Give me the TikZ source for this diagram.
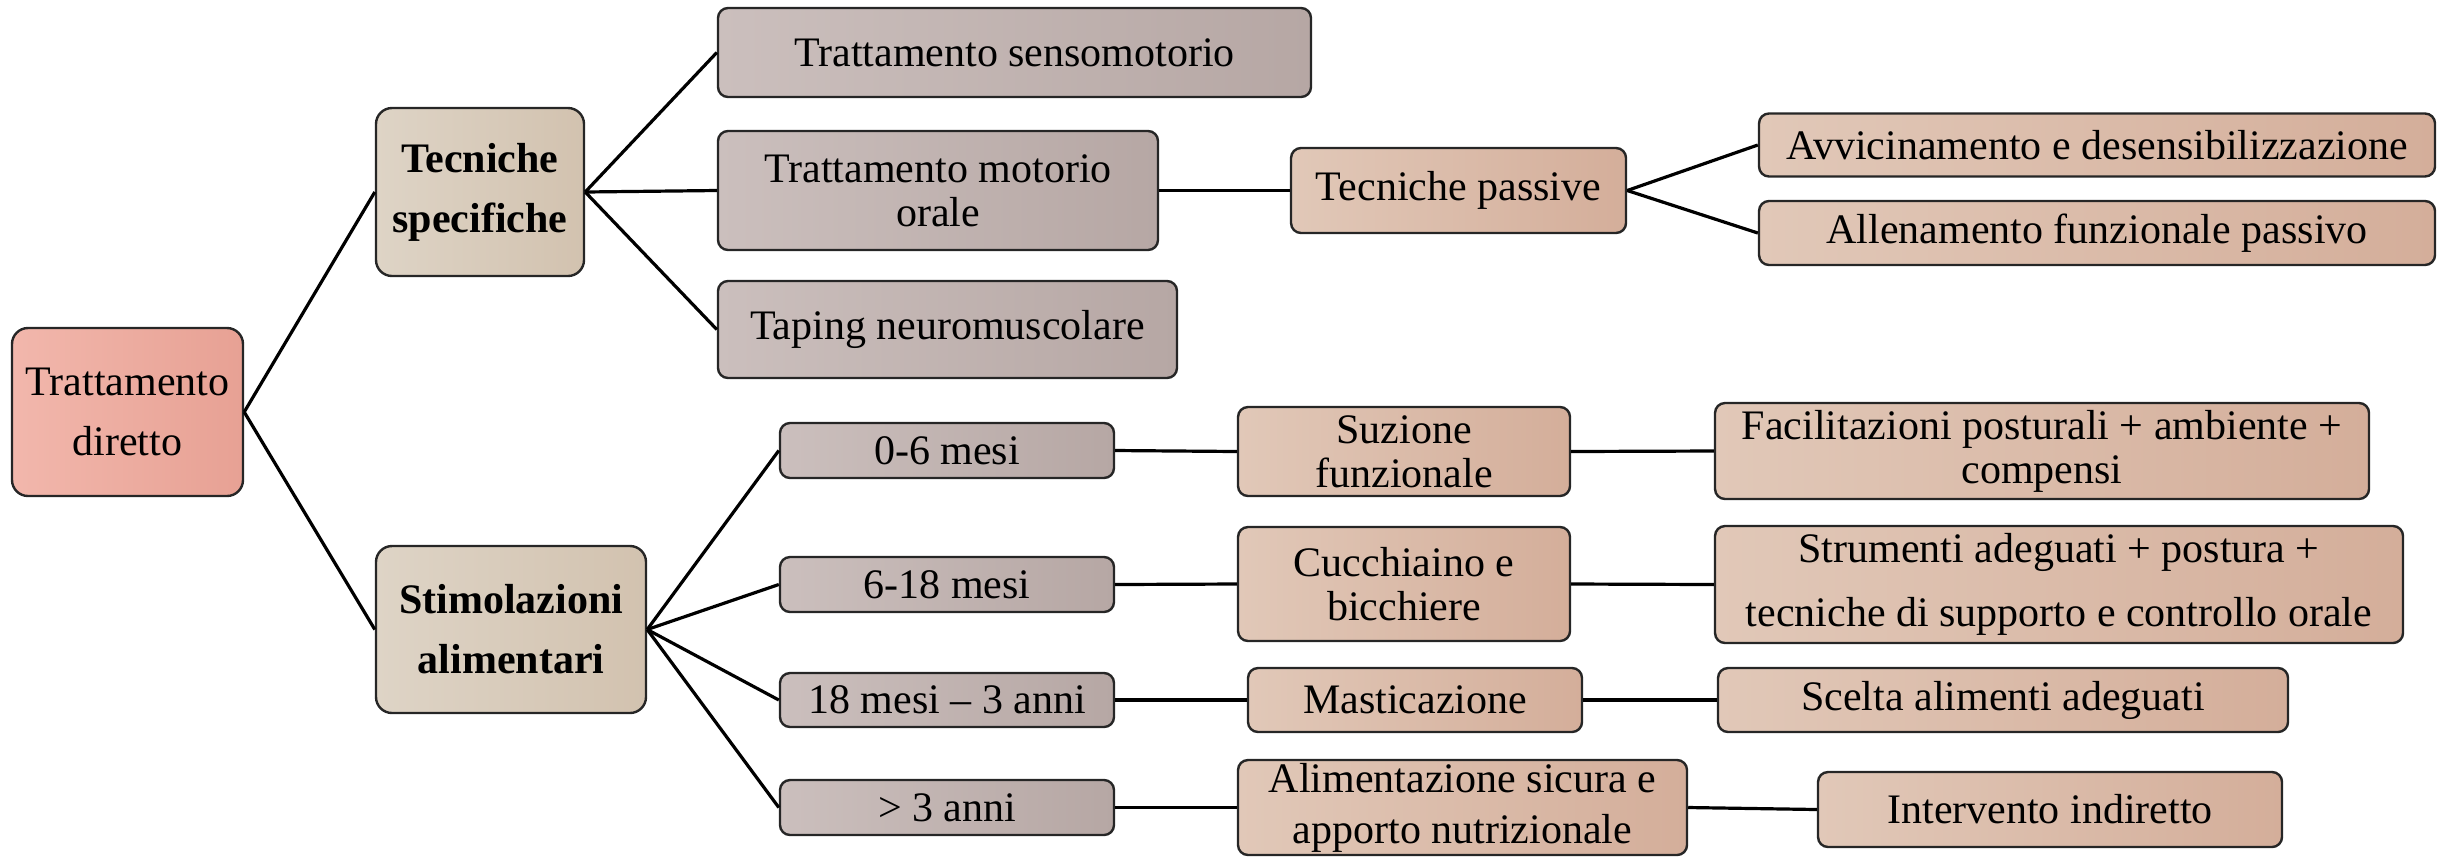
\documentclass[tikz,border=0pt]{standalone}
\usepackage{fontspec}
\setmainfont{Liberation Serif}
\begin{document}
\begin{tikzpicture}[x=0.25pt,y=-0.25pt]
\tikzset{
  basebox/.style={draw=black!85, line width=0.6pt, rounded corners=2.5pt, align=center, inner sep=0pt,
    font=\fontsize{10.5pt}{11pt}\selectfont},
  pinkbox/.style={basebox, rounded corners=4pt, left color=pinkA, right color=pinkB, font=\fontsize{10.5pt}{15pt}\selectfont},
  beigebox/.style={basebox, rounded corners=4pt, left color=beigeA, right color=beigeB, font=\bfseries\fontsize{10.5pt}{15pt}\selectfont},
  graybox/.style={basebox, left color=grayA, right color=grayB},
  tanbox/.style={basebox, left color=tanA, right color=tanB},
  conn/.style={draw=black, line width=0.8pt}
}
\definecolor{pinkA}{HTML}{F2B7AC}
\definecolor{pinkB}{HTML}{E7A194}
\definecolor{beigeA}{HTML}{DED4C6}
\definecolor{beigeB}{HTML}{D2C2AF}
\definecolor{grayA}{HTML}{CBBFBD}
\definecolor{grayB}{HTML}{B6A7A4}
\definecolor{tanA}{HTML}{E1C8B8}
\definecolor{tanB}{HTML}{D4AE9A}
\useasboundingbox (0,0) rectangle (2447,859);

\node[pinkbox, minimum width=57.75pt, minimum height=42pt] (td) at (127.5,412) {Trattamento\\diretto};
\node[beigebox, minimum width=52pt, minimum height=42pt] (ts) at (480,192) {Tecniche\\specifiche};
\node[beigebox, minimum width=67.5pt, minimum height=41.75pt] (sa) at (511,629.5) {Stimolazioni\\alimentari};

\node[graybox, minimum width=148.25pt, minimum height=22.25pt] (sm) at (1014.5,52.5) {Trattamento sensomotorio};
\node[graybox, minimum width=110pt, minimum height=29.75pt] (mo) at (938,190.5) {Trattamento motorio\\orale};
\node[graybox, minimum width=114.75pt, minimum height=24.25pt] (tn) at (947.5,329.5) {Taping neuromuscolare};

\node[tanbox, minimum width=83.75pt, minimum height=21.25pt] (tp) at (1458.5,190.5) {Tecniche passive};
\node[tanbox, minimum width=169pt, minimum height=15.75pt] (av) at (2097,145) {Avvicinamento e desensibilizzazione};
\node[tanbox, minimum width=169pt, minimum height=16pt] (al) at (2097,233) {Allenamento funzionale passivo};

\node[graybox, minimum width=83.5pt, minimum height=13.75pt] (a1) at (947,450.5) {0-6 mesi};
\node[graybox, minimum width=83.5pt, minimum height=13.75pt] (a2) at (947,584.5) {6-18 mesi};
\node[graybox, minimum width=83.5pt, minimum height=13.5pt] (a3) at (947,700) {18 mesi -- 3 anni};
\node[graybox, minimum width=83.5pt, minimum height=13.75pt] (a4) at (947,807.5) {> 3 anni};

\node[tanbox, minimum width=83pt, minimum height=22.25pt] (b1) at (1404,451.5) {Suzione\\funzionale};
\node[tanbox, minimum width=83pt, minimum height=28.5pt] (b2) at (1404,584) {Cucchiaino e\\bicchiere};
\node[tanbox, minimum width=83.5pt, minimum height=16pt] (b3) at (1415,700) {Masticazione};
\node[tanbox, minimum width=112.25pt, minimum height=23.75pt, font=\fontsize{10.5pt}{12.75pt}\selectfont] (b4) at (1462.5,807.5) {Alimentazione sicura e\\apporto nutrizionale};

\node[tanbox, minimum width=163.5pt, minimum height=24pt] (c1) at (2042,451) {Facilitazioni posturali + ambiente +\\compensi};
\node[tanbox, minimum width=172pt, minimum height=29.25pt, font=\fontsize{10.5pt}{16pt}\selectfont] (c2) at (2059,584.5) {Strumenti adeguati + postura +\\tecniche di supporto e controllo orale};
\node[tanbox, minimum width=142.5pt, minimum height=16pt] (c3) at (2003,700) {Scelta alimenti adeguati};
\node[tanbox, minimum width=116pt, minimum height=18.75pt] (c4) at (2050,809.5) {Intervento indiretto};

\draw[conn] (td.east) -- (ts.west);
\draw[conn] (td.east) -- (sa.west);
\draw[conn] (ts.east) -- (sm.west);
\draw[conn] (ts.east) -- (mo.west);
\draw[conn] (ts.east) -- (tn.west);
\draw[conn] (mo.east) -- (tp.west);
\draw[conn] (tp.east) -- (av.west);
\draw[conn] (tp.east) -- (al.west);
\draw[conn] (sa.east) -- (a1.west);
\draw[conn] (sa.east) -- (a2.west);
\draw[conn] (sa.east) -- (a3.west);
\draw[conn] (sa.east) -- (a4.west);
\draw[conn] (a1.east) -- (b1.west);
\draw[conn] (a2.east) -- (b2.west);
\draw[conn] (a3.east) -- (b3.west);
\draw[conn] (a4.east) -- (b4.west);
\draw[conn] (b1.east) -- (c1.west);
\draw[conn] (b2.east) -- (c2.west);
\draw[conn] (b3.east) -- (c3.west);
\draw[conn] (b4.east) -- (c4.west);
\end{tikzpicture}
\end{document}
